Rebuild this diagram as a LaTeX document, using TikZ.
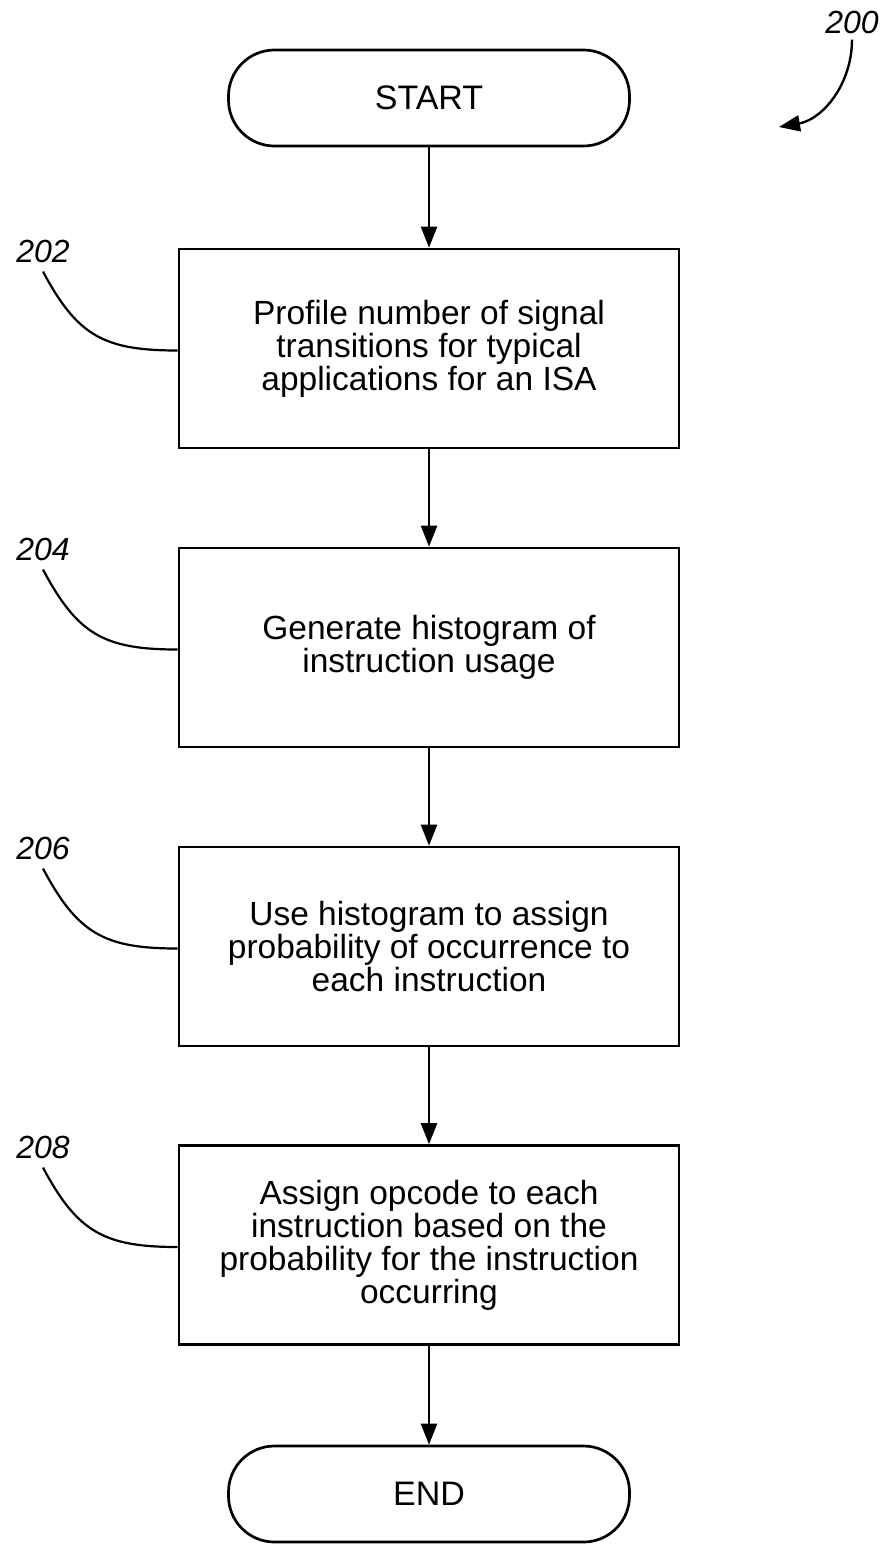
\documentclass[tikz,border=0pt]{standalone}
\usepackage{fontspec}
\setmainfont{Liberation Sans}
\usepackage{tikz}
\usetikzlibrary{arrows.meta}
\tikzstyle{terminal} = [draw, line width=2.7pt, rounded corners=46pt, minimum width=401pt, minimum height=96pt, inner sep=0pt, font=\fontsize{34}{34}\selectfont]
\tikzstyle{process} = [draw, line width=2.7pt, minimum width=500pt, minimum height=199pt, inner sep=0pt, align=center, font=\fontsize{33.5}{33}\selectfont]
\tikzstyle{arrow} = [line width=2.4pt, -{Triangle[length=21pt,width=16pt]}]
\tikzstyle{lead} = [line width=2.2pt]
\tikzstyle{refnum} = [inner sep=0pt, font=\fontsize{32}{32}\selectfont\itshape]

\begin{document}
\begin{tikzpicture}[x=1pt,y=-1pt]
\useasboundingbox (0,0) rectangle (885,1545);

\node[terminal] (start) at (429,98) {START};
\node[process] (b202) at (429,348.5) {Profile number of signal\\transitions for typical\\applications for an ISA};
\node[process] (b204) at (429,647.5) {Generate histogram of\\instruction usage};
\node[process] (b206) at (429,946.5) {Use histogram to assign\\probability of occurrence to\\each instruction};
\node[process] (b208) at (429,1245) {Assign opcode to each\\instruction based on the\\probability for the instruction\\occurring};
\node[terminal] (end) at (429,1494) {END};

\draw[arrow] (start) -- (b202);
\draw[arrow] (b202) -- (b204);
\draw[arrow] (b204) -- (b206);
\draw[arrow] (b206) -- (b208);
\draw[arrow] (b208) -- (end);

% reference numerals
\node[refnum] (l200) at (852,22) {200};
\coordinate (c200) at (779,127);
\draw[arrow] ([yshift=-6pt]l200.south) to[out=-90,in=10] (c200);

\node[refnum] (l202) at (43,251) {202};
\node[refnum] (l204) at (43,549) {204};
\node[refnum] (l206) at (43,848) {206};
\node[refnum] (l208) at (43,1147) {208};
\draw[lead] ([yshift=-9pt]l202.south) to[out=-62,in=180,looseness=1.2] ([yshift=-2pt]b202.west);
\draw[lead] ([yshift=-9pt]l204.south) to[out=-62,in=180,looseness=1.2] ([yshift=-2pt]b204.west);
\draw[lead] ([yshift=-9pt]l206.south) to[out=-62,in=180,looseness=1.2] ([yshift=-2pt]b206.west);
\draw[lead] ([yshift=-9pt]l208.south) to[out=-62,in=180,looseness=1.2] ([yshift=-2pt]b208.west);
\end{tikzpicture}
\end{document}
